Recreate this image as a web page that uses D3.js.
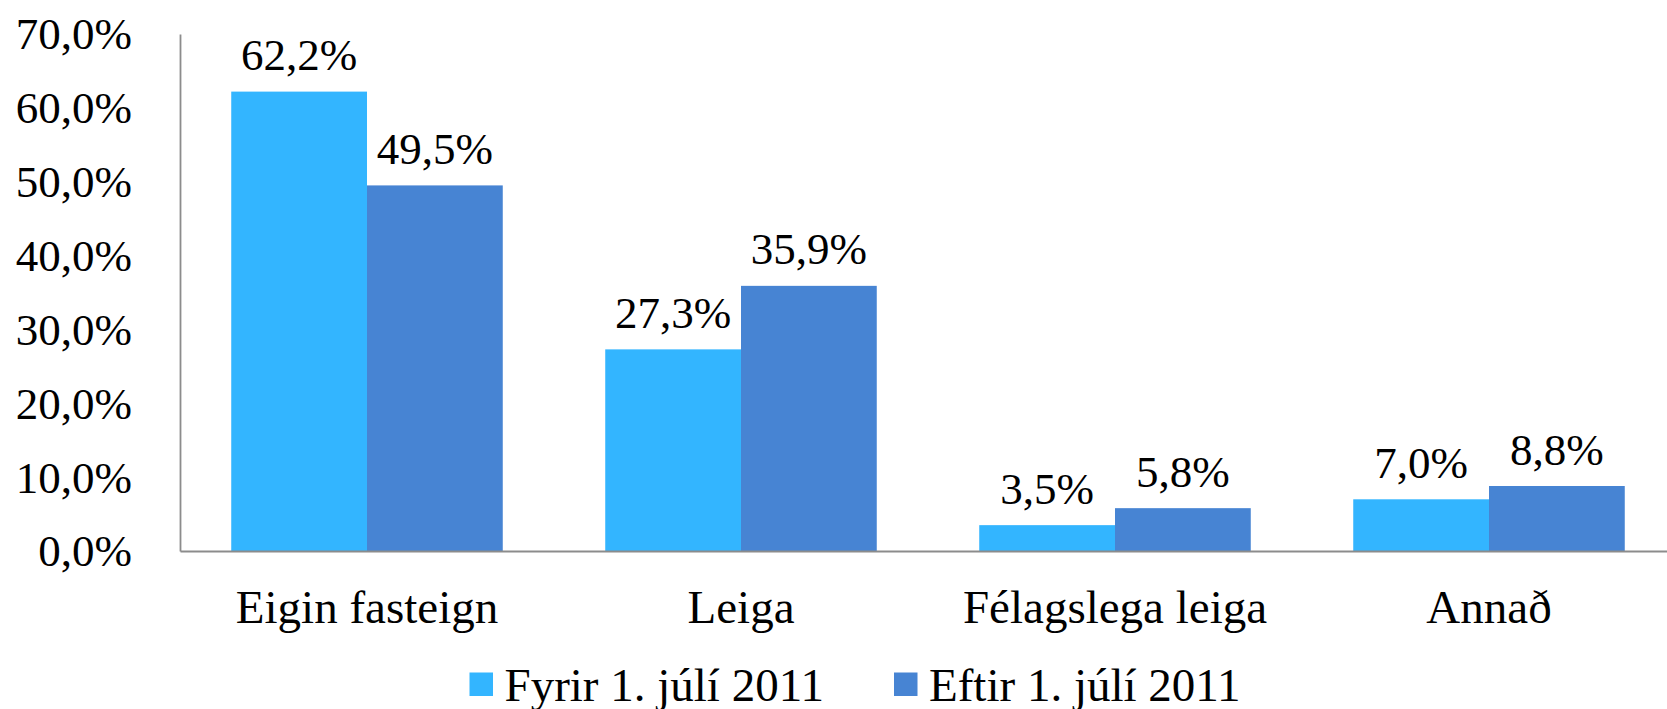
<!DOCTYPE html>
<html>
<head>
<meta charset="utf-8">
<script src="https://cdn.jsdelivr.net/npm/d3@7"></script>
<style>
  html, body { margin: 0; padding: 0; background: #fff; }
  svg { display: block; }
  svg text { font-family: "Liberation Serif", "DejaVu Serif", serif !important; fill: #000; }
</style>
</head>
<body>
<div id="chart"></div>
<script>
var categories = ["Eigin fasteign", "Leiga", "Félagslega leiga", "Annað"];
var seriesNames = ["Fyrir 1. júlí 2011", "Eftir 1. júlí 2011"];
var fyrir = [62.2, 27.3, 3.5, 7.0];
var eftir = [49.5, 35.9, 5.8, 8.8];
var yTicks = [0, 10, 20, 30, 40, 50, 60, 70];

var size = { width: 1667, height: 709 };
var colors = ["#33b5ff", "#4784d3"];
var axisColor = "#8c8c8c";
var serif = "'Liberation Serif', 'DejaVu Serif', serif";

// plot area runs past the right edge, as in the reference
var plot = { left: 180, right: 1676, top: 34, bottom: 551 };

var svg = d3.select("#chart").append("svg")
    .attr("width", size.width)
    .attr("height", size.height);

var x0 = d3.scaleBand()
    .domain(categories)
    .range([plot.left, plot.right])
    .paddingInner(0.274)
    .paddingOuter(0.137);

var x1 = d3.scaleBand()
    .domain(seriesNames)
    .range([0, x0.bandwidth()]);

var y = d3.scaleLinear()
    .domain([0, 70])
    .range([plot.bottom, plot.top]);

var fmt = function (v) { return v.toFixed(1).replace(".", ",") + "%"; };

// rows: one per category, values per series
var rows = categories.map(function (c, i) {
    return { cat: c, values: [
        { name: seriesNames[0], value: fyrir[i], color: colors[0] },
        { name: seriesNames[1], value: eftir[i], color: colors[1] }
    ] };
});

// Y axis
var yAxis = svg.append("g")
    .attr("transform", "translate(" + plot.left + ",0)")
    .call(d3.axisLeft(y).tickValues(yTicks).tickFormat(fmt).tickSize(0).tickPadding(48))
    .attr("font-family", serif);
yAxis.select(".domain").attr("stroke", axisColor).attr("stroke-width", 1.8);
yAxis.selectAll("text")
    .attr("font-size", 45)
    .attr("dy", "0.33em");

// Bars
var groups = svg.append("g").selectAll("g")
    .data(rows)
    .enter().append("g")
    .attr("transform", function (d) { return "translate(" + x0(d.cat) + ",0)"; });

groups.selectAll("rect")
    .data(function (d) { return d.values; })
    .enter().append("rect")
    .attr("x", function (d) { return x1(d.name); })
    .attr("y", function (d) { return y(d.value); })
    .attr("width", x1.bandwidth())
    .attr("height", function (d) { return y(0) - y(d.value); })
    .attr("fill", function (d) { return d.color; });

// Data labels
groups.selectAll("text.val")
    .data(function (d) { return d.values; })
    .enter().append("text")
    .attr("class", "val")
    .attr("x", function (d) { return x1(d.name) + x1.bandwidth() / 2; })
    .attr("y", function (d) { return y(d.value) - 21.5; })
    .attr("text-anchor", "middle")
    .attr("font-family", serif)
    .attr("font-size", 45)
    .text(function (d) { return fmt(d.value); });

// X axis
var xAxis = svg.append("g")
    .attr("transform", "translate(0," + plot.bottom + ")")
    .call(d3.axisBottom(x0).tickSize(0).tickSizeOuter(0))
    .attr("font-family", serif);
xAxis.select(".domain").attr("stroke", axisColor).attr("stroke-width", 2);
xAxis.selectAll("text")
    .attr("y", 71.5)
    .attr("dy", null)
    .attr("font-size", 47);

// Legend
var legendX = [469.5, 894];
var legend = svg.append("g").selectAll("g")
    .data(seriesNames)
    .enter().append("g")
    .attr("transform", function (d, i) { return "translate(" + legendX[i] + ",672.5)"; });

legend.append("rect")
    .attr("width", 23.5)
    .attr("height", 23.5)
    .attr("fill", function (d, i) { return colors[i]; });

legend.append("text")
    .attr("x", 35)
    .attr("y", 28.5)
    .attr("font-family", serif)
    .attr("font-size", 47)
    .text(function (d) { return d; });
</script>
</body>
</html>
